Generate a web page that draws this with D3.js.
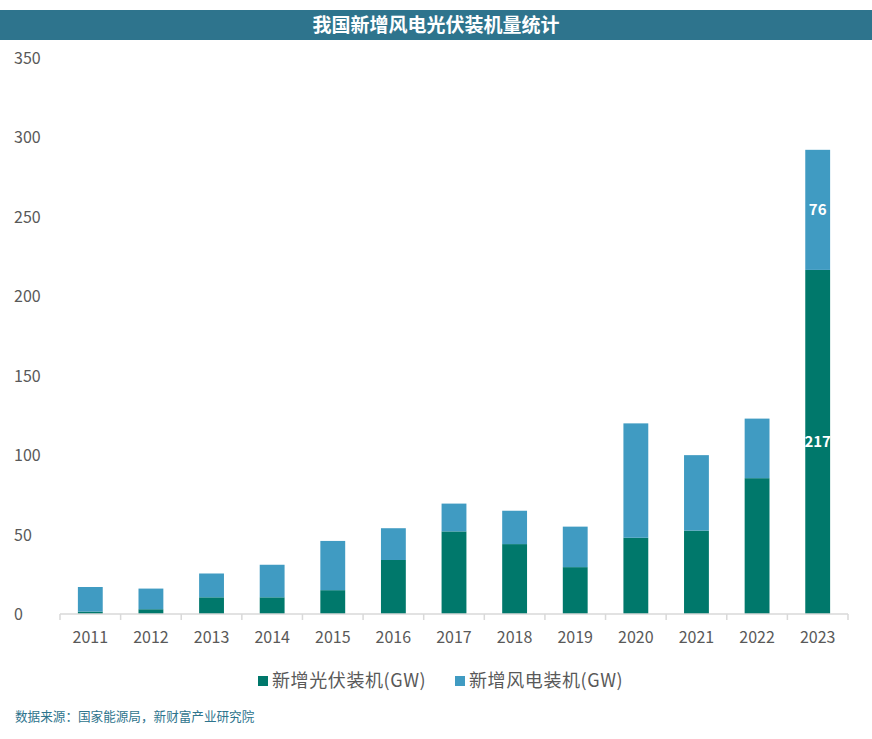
<!DOCTYPE html>
<html>
<head>
<meta charset="utf-8">
<script src="https://cdn.jsdelivr.net/npm/d3@7/dist/d3.min.js"></script>
<style>
  body { margin: 0; background: #fff; }
  text { font-family: "Noto Sans CJK SC", "Noto Sans", sans-serif; }
</style>
</head>
<body>
<div id="chart"></div>
<script>
// 数据
let years = ["2011","2012","2013","2014","2015","2016","2017","2018","2019","2020","2021","2022","2023"];
let solar = [1.5, 3, 10.5, 10.5, 15, 34, 52, 44, 29.5, 48, 52.5, 85.5, 216.6];
let wind  = [15.5, 13, 15, 20.5, 31, 20, 17.5, 21, 25.5, 72, 47.5, 37.5, 75.6];
let yTicks = [0, 50, 100, 150, 200, 250, 300, 350];
let seriesNames = ["新增光伏装机(GW)", "新增风电装机(GW)"];
let labelled = ["2023"];

let W = 872, H = 739;
let margin = {top: 58, right: 24, bottom: 125, left: 60};
let colors = ["#00786B", "#409BC2"];

let svg = d3.select("#chart").append("svg")
    .attr("width", W)
    .attr("height", H);

// 标题栏
svg.append("rect")
    .attr("x", 0).attr("y", 10)
    .attr("width", W).attr("height", 30)
    .attr("fill", "#2E748D");
svg.append("text")
    .attr("x", W / 2).attr("y", 32)
    .attr("text-anchor", "middle")
    .attr("fill", "#fff")
    .attr("font-size", 19)
    .attr("font-weight", "bold")
    .text("我国新增风电光伏装机量统计");

let x = d3.scaleBand()
    .domain(years)
    .range([margin.left, W - margin.right])
    .paddingInner(0.59)
    .paddingOuter(0.295);

let xTickScale = d3.scaleBand().domain(years).range([margin.left, W - margin.right]);

let y = d3.scaleLinear()
    .domain([0, 350])
    .range([H - margin.bottom, margin.top]);

let data = years.map((d, i) => ({year: d, solar: solar[i], wind: wind[i]}));
let stack = d3.stack().keys(["solar", "wind"])(data);

// 柱子
svg.selectAll(".series")
    .data(stack)
    .enter().append("g")
    .attr("fill", (d, i) => colors[i])
    .selectAll("rect")
    .data(d => d)
    .enter().append("rect")
    .attr("x", d => x(d.data.year))
    .attr("y", d => y(d[1]))
    .attr("width", x.bandwidth())
    .attr("height", d => y(d[0]) - y(d[1]));

// 数值标签
stack.forEach(function(s) {
    svg.selectAll(null)
        .data(s.filter(d => labelled.indexOf(d.data.year) >= 0))
        .enter().append("text")
        .attr("x", d => x(d.data.year) + x.bandwidth() / 2)
        .attr("y", d => (y(d[0]) + y(d[1])) / 2 + 5)
        .attr("text-anchor", "middle")
        .attr("fill", "#fff")
        .attr("font-size", 15)
        .attr("font-weight", "bold")
        .text(d => Math.round(d[1] - d[0]));
});

// y 轴标签（无轴线）
svg.selectAll(".ylab")
    .data(yTicks)
    .enter().append("text")
    .attr("x", 14)
    .attr("y", d => y(d) + 6)
    .attr("fill", "#595959")
    .attr("font-size", 16)
    .text(d => d);

// x 轴
let xAxisG = svg.append("g")
    .attr("transform", "translate(0," + y(0) + ")");
xAxisG.append("line")
    .attr("x1", margin.left).attr("x2", W - margin.right)
    .attr("stroke", "#D9D9D9").attr("stroke-width", 1.5);
xAxisG.selectAll(".tick")
    .data(years.concat(["end"]))
    .enter().append("line")
    .attr("x1", (d, i) => i < years.length ? xTickScale(d) : W - margin.right)
    .attr("x2", (d, i) => i < years.length ? xTickScale(d) : W - margin.right)
    .attr("y1", 0).attr("y2", 6)
    .attr("stroke", "#D9D9D9").attr("stroke-width", 1.5);
xAxisG.selectAll(".xlab")
    .data(years)
    .enter().append("text")
    .attr("x", d => xTickScale(d) + xTickScale.bandwidth() / 2)
    .attr("y", 29)
    .attr("text-anchor", "middle")
    .attr("fill", "#595959")
    .attr("font-size", 16)
    .text(d => d);

// 图例
let legendX = [258, 455];
let legend = svg.selectAll(".legend")
    .data(seriesNames)
    .enter().append("g")
    .attr("transform", (d, i) => "translate(" + legendX[i] + ",676)");
legend.append("rect")
    .attr("width", 10).attr("height", 10)
    .attr("fill", (d, i) => colors[i]);
legend.append("text")
    .attr("x", 14).attr("y", 11)
    .attr("fill", "#595959")
    .attr("font-size", 18)
    .attr("letter-spacing", 0.6)
    .text(d => d);

// 数据来源
svg.append("text")
    .attr("x", 15).attr("y", 721)
    .attr("fill", "#2E748D")
    .attr("font-size", 12.6)
    .text("数据来源：国家能源局，新财富产业研究院");
</script>
</body>
</html>
